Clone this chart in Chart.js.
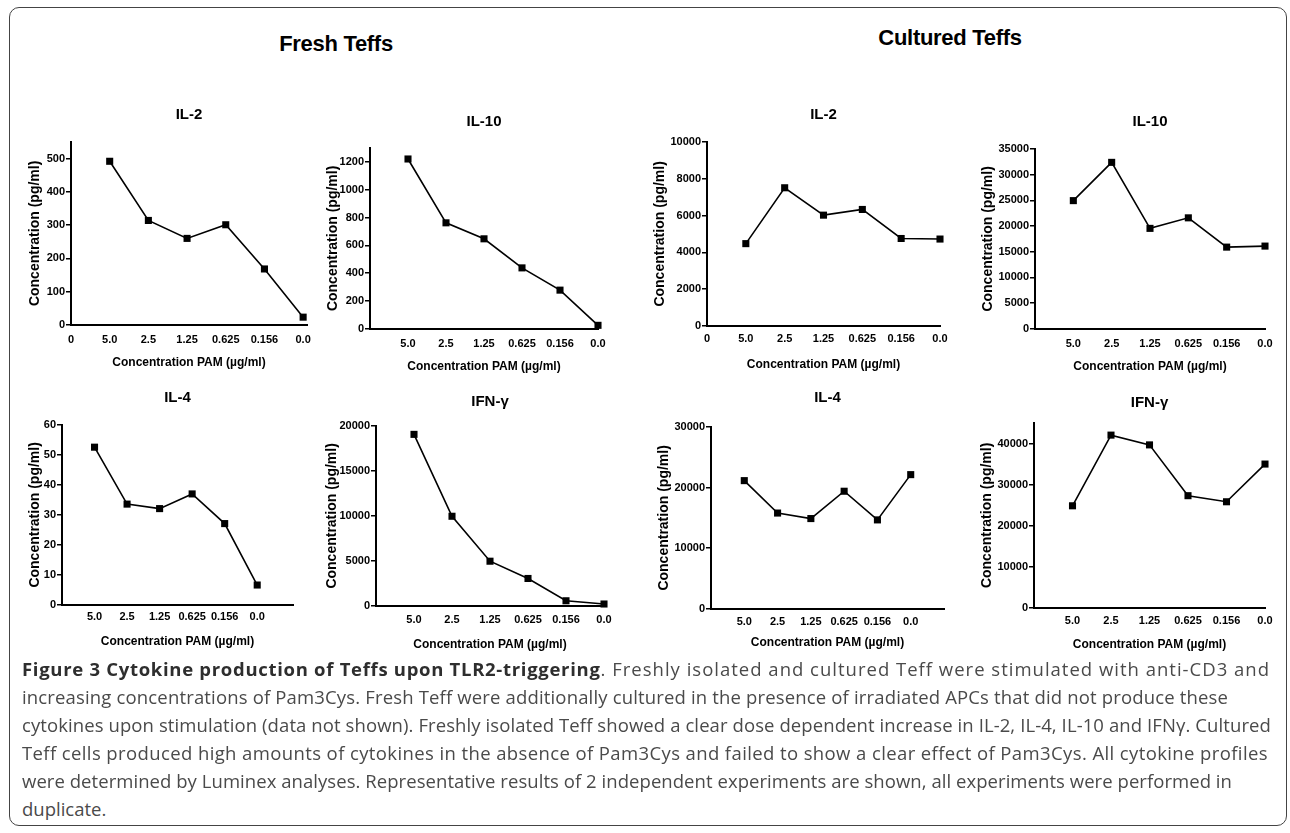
<!DOCTYPE html>
<html>
<head>
<meta charset="utf-8">
<script src="https://cdn.jsdelivr.net/npm/chart.js@4.4.0/dist/chart.umd.min.js"></script>
<style>
  body { margin: 0; background: #fff; width: 1290px; height: 833px; position: relative; overflow: hidden;
         font-family: "Liberation Sans", Arial, sans-serif; }
  .frame { position: absolute; left: 9px; top: 7px; width: 1278px; height: 819px; box-sizing: border-box;
           border: 1.5px solid #444; border-radius: 10px; }
  canvas { position: absolute; }
  .head { position: absolute; font-weight: bold; font-size: 22px; color: #000; white-space: nowrap;
          transform: translate(-50%, -50%); letter-spacing: -0.3px; }
  .cap { position: absolute; left: 22px; white-space: nowrap; font-family: "Open Sans", sans-serif;
         font-size: 18.5px; line-height: 28px; color: #4a4a4a; }
  .cap b { font-weight: 700; color: #2e2e2e; letter-spacing: -0.3px; }
</style>
</head>
<body>
<div class="frame"></div>
<div class="head" style="left:336px; top:44px;">Fresh Teffs</div>
<div class="head" style="left:950px; top:38px;">Cultured Teffs</div>

<canvas id="c1"></canvas>
<canvas id="c2"></canvas>
<canvas id="c3"></canvas>
<canvas id="c4"></canvas>
<canvas id="c5"></canvas>
<canvas id="c6"></canvas>
<canvas id="c7"></canvas>
<canvas id="c8"></canvas>

<div class="cap" data-end="1270" style="top:655px;"><b>Figure 3 Cytokine production of Teffs upon TLR2-triggering</b>. Freshly isolated and cultured Teff were stimulated with anti-CD3 and</div>
<div class="cap" data-end="1228" style="top:683px;">increasing concentrations of Pam3Cys. Fresh Teff were additionally cultured in the presence of irradiated APCs that did not produce these</div>
<div class="cap" data-end="1271" style="top:711px;">cytokines upon stimulation (data not shown). Freshly isolated Teff showed a clear dose dependent increase in IL-2, IL-4, IL-10 and IFNγ. Cultured</div>
<div class="cap" data-end="1268" style="top:739px;">Teff cells produced high amounts of cytokines in the absence of Pam3Cys and failed to show a clear effect of Pam3Cys. All cytokine profiles</div>
<div class="cap" data-end="1232" style="top:767px;">were determined by Luminex analyses. Representative results of 2 independent experiments are shown, all experiments were performed in</div>
<div class="cap" style="top:795px;">duplicate.</div>

<script>
// Pam3Cys doses, same order in every panel
const doseLabels = ['5.0', '2.5', '1.25', '0.625', '0.156', '0.0'];

// fresh Teffs (pg/ml)
const freshIL2 = [492, 314, 260, 301, 168, 23];
const freshIL10 = [1221, 762, 647, 438, 278, 25];
const freshIL4 = [52.6, 33.6, 32.1, 37.0, 27.1, 6.6];
const freshIFNg = [19070, 9960, 4960, 3040, 560, 200];

// cultured Teffs (pg/ml)
const culturedIL2 = [4470, 7510, 6020, 6330, 4750, 4720];
const culturedIL10 = [24950, 32400, 19550, 21600, 15900, 16100];
const culturedIL4 = [21150, 15800, 14890, 19400, 14670, 22140];
const culturedIFNg = [24840, 42050, 39670, 27300, 25820, 35000];

// y tick labels
const freshIL2Ticks = [0, 100, 200, 300, 400, 500];
const freshIL10Ticks = [0, 200, 400, 600, 800, 1000, 1200];
const freshIL4Ticks = [0, 10, 20, 30, 40, 50, 60];
const freshIFNgTicks = [0, 5000, 10000, 15000, 20000];
const culturedIL2Ticks = [0, 2000, 4000, 6000, 8000, 10000];
const culturedIL10Ticks = [0, 5000, 10000, 15000, 20000, 25000, 30000, 35000];
const culturedIL4Ticks = [0, 10000, 20000, 30000];
const culturedIFNgTicks = [0, 10000, 20000, 30000, 40000];

const FONT = '"Liberation Sans", Arial, sans-serif';
const TITLE_SIZE = 15;

const panels = [
  { id: 'c1', title: 'IL-2', values: freshIL2, yTicks: freshIL2Ticks, yMax: 550, xMax: 6.1, showZero: true,
    plotLeft: 71, plotRight: 307, plotTop: 142, plotBottom: 325, titleY: 115, yTitleOff: 36, xTickPad: 9, xTitleOff: 38 },
  { id: 'c2', title: 'IL-10', values: freshIL10, yTicks: freshIL10Ticks, yMax: 1300, xMax: 6, showZero: false,
    plotLeft: 370, plotRight: 598, plotTop: 148, plotBottom: 329, titleY: 122, yTitleOff: 37, xTickPad: 9, xTitleOff: 38 },
  { id: 'c3', title: 'IL-2', values: culturedIL2, yTicks: culturedIL2Ticks, yMax: 10000, xMax: 6, showZero: true,
    plotLeft: 707, plotRight: 940, plotTop: 142, plotBottom: 326, titleY: 115, yTitleOff: 47, xTickPad: 7, xTitleOff: 39 },
  { id: 'c4', title: 'IL-10', values: culturedIL10, yTicks: culturedIL10Ticks, yMax: 35000, xMax: 6, showZero: false,
    plotLeft: 1035, plotRight: 1265, plotTop: 149, plotBottom: 329, titleY: 122, yTitleOff: 47, xTickPad: 9, xTitleOff: 38 },
  { id: 'c5', title: 'IL-4', values: freshIL4, yTicks: freshIL4Ticks, yMax: 60, xMax: 7.1, showZero: false,
    plotLeft: 62, plotRight: 293, plotTop: 425, plotBottom: 605, titleY: 398, yTitleOff: 27, xTickPad: 6, xTitleOff: 37 },
  { id: 'c6', title: 'IFN-γ', values: freshIFNg, yTicks: freshIFNgTicks, yMax: 20000, xMax: 6, showZero: false,
    plotLeft: 376, plotRight: 604, plotTop: 426, plotBottom: 606, titleY: 402, yTitleOff: 44, xTickPad: 8, xTitleOff: 39 },
  { id: 'c7', title: 'IL-4', values: culturedIL4, yTicks: culturedIL4Ticks, yMax: 30000, xMax: 7, showZero: false,
    plotLeft: 711, plotRight: 944, plotTop: 427, plotBottom: 609, titleY: 398, yTitleOff: 47, xTickPad: 7, xTitleOff: 34 },
  { id: 'c8', title: 'IFN-γ', values: culturedIFNg, yTicks: culturedIFNgTicks, yMax: 45000, xMax: 6, showZero: false,
    plotLeft: 1034, plotRight: 1265, plotTop: 423, plotBottom: 608, titleY: 403, yTitleOff: 47, xTickPad: 7, xTitleOff: 37 }
];

function drawPanel(p) {
  const canvas = document.getElementById(p.id);
  // canvas box worked out from the plot box we want
  const titleLH = TITLE_SIZE * 1.2;
  const left = Math.round(p.plotLeft - p.yTitleOff - 4 - 8.4);
  const top = Math.round(p.titleY - 4 - titleLH / 2);
  const yAxisW = p.plotLeft - left;
  const xAxisH = p.xTitleOff + 4 + 7.2;
  const padRight = 22;
  const w = Math.round(p.plotRight + padRight - left);
  const h = Math.round(p.plotBottom + xAxisH - top);
  canvas.width = w;
  canvas.height = h;
  canvas.style.left = left + 'px';
  canvas.style.top = top + 'px';
  canvas.style.width = w + 'px';
  canvas.style.height = h + 'px';

  new Chart(canvas, {
    type: 'line',
    data: {
      datasets: [{
        data: p.values.map((v, i) => ({ x: i + 1, y: v })),
        borderColor: '#000',
        borderWidth: 1.6,
        backgroundColor: '#000',
        pointStyle: 'rect',
        pointRadius: 5,
        pointHoverRadius: 5,
        pointBorderWidth: 0,
        tension: 0,
        clip: false
      }]
    },
    options: {
      responsive: false,
      animation: false,
      events: [],
      layout: { padding: { left: 0, right: padRight, top: 0, bottom: 0 } },
      plugins: {
        legend: { display: false },
        tooltip: { enabled: false },
        title: {
          display: true,
          text: p.title,
          fullSize: false,
          color: '#000',
          font: { family: FONT, size: TITLE_SIZE, weight: 'bold' },
          padding: { top: 4, bottom: p.plotTop - top - 4 - titleLH }
        }
      },
      scales: {
        x: {
          type: 'linear',
          min: 0,
          max: p.xMax,
          afterBuildTicks: s => { s.ticks = [0].concat(doseLabels.map((_, i) => i + 1)).map(v => ({ value: v })); },
          afterFit: s => { s.height = xAxisH; s.paddingLeft = 0; s.paddingRight = 0; },
          grid: { display: false, drawTicks: false },
          border: { display: true, color: '#000', width: 2 },
          ticks: {
            autoSkip: false, maxRotation: 0, padding: p.xTickPad, color: '#000',
            font: { family: FONT, size: 11, weight: 'bold' },
            callback: v => v === 0 ? (p.showZero ? '0' : '') : doseLabels[v - 1]
          },
          title: {
            display: true, text: 'Concentration PAM (µg/ml)', color: '#000',
            font: { family: FONT, size: 12, weight: 'bold' }, padding: { top: 0, bottom: 4 }
          }
        },
        y: {
          min: 0,
          max: p.yMax,
          afterBuildTicks: s => { s.ticks = p.yTicks.map(v => ({ value: v })); },
          afterFit: s => { s.width = yAxisW; },
          grid: { drawOnChartArea: false, drawTicks: true, tickLength: 5, color: '#000', lineWidth: 1.5 },
          border: { display: true, color: '#000', width: 2 },
          ticks: {
            padding: 1, color: '#000',
            font: { family: FONT, size: 11, weight: 'bold' },
            callback: v => String(v)
          },
          title: {
            display: true, text: 'Concentration (pg/ml)', color: '#000',
            font: { family: FONT, size: 14, weight: 'bold' }, padding: { top: 4, bottom: 4 }
          }
        }
      }
    }
  });
}

panels.forEach(drawPanel);

// caption lines: even out the letter spacing so each line ends where it does in the figure
document.querySelectorAll('.cap[data-end]').forEach(el => {
  const natural = el.getBoundingClientRect().width;
  const target = Number(el.dataset.end) - 22;
  const ls = (target - natural) / el.textContent.length;
  el.style.letterSpacing = ls.toFixed(3) + 'px';
  el.querySelectorAll('b').forEach(b => { b.style.letterSpacing = (ls - 0.3).toFixed(3) + 'px'; });
});
</script>
</body>
</html>
